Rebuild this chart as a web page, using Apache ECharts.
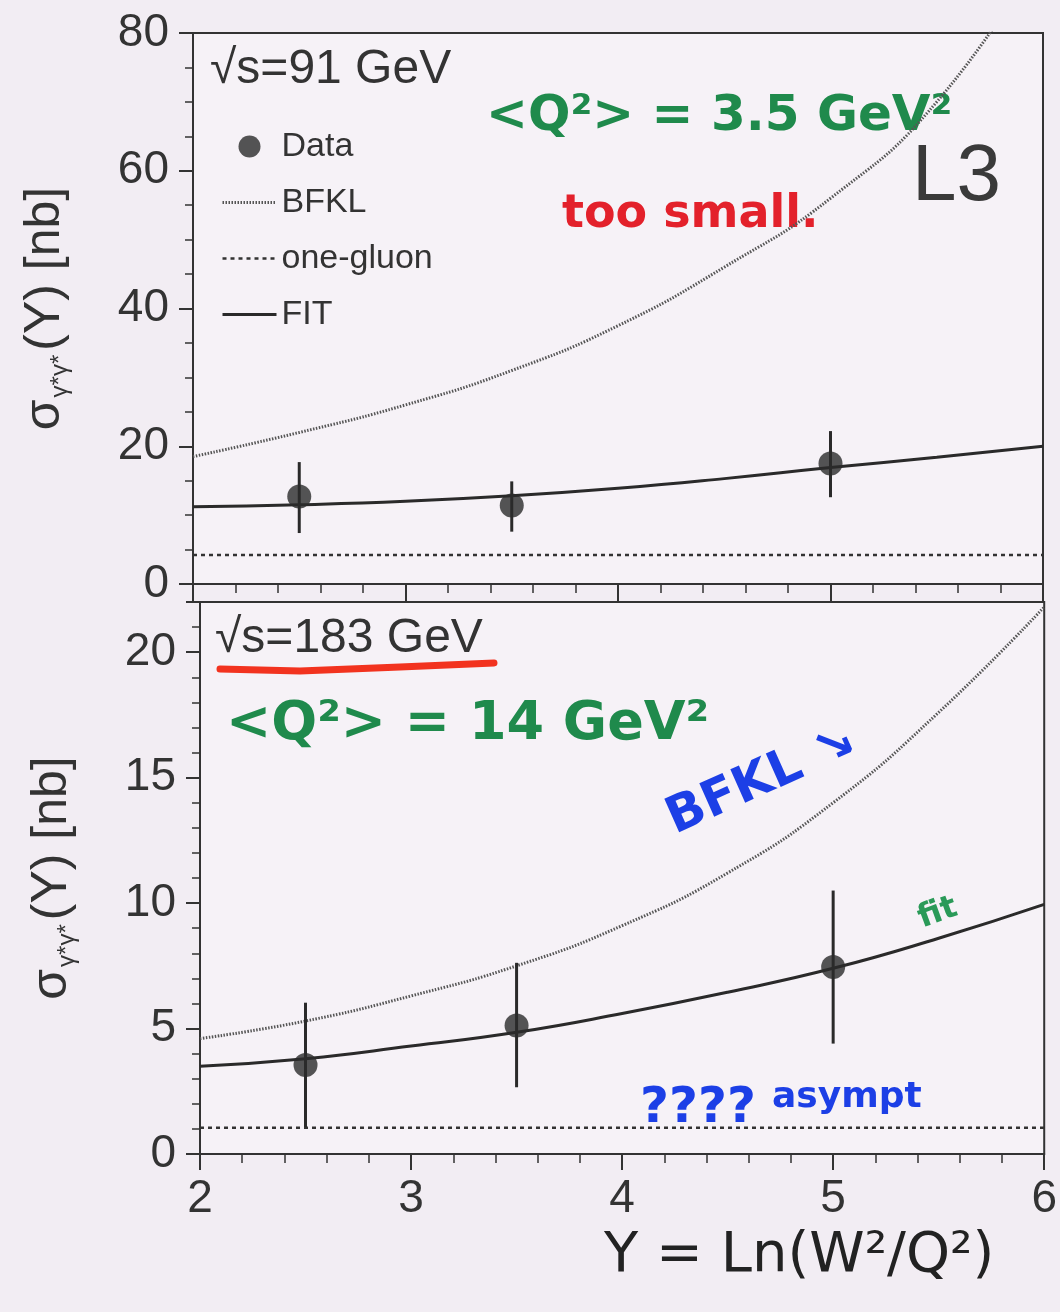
<!DOCTYPE html>
<html>
<head>
<meta charset="utf-8">
<script src="https://cdn.jsdelivr.net/npm/echarts@6/dist/echarts.min.js"></script>
<style>
html,body{margin:0;padding:0;background:#f2edf3;}
#c{width:1060px;height:1312px;}
</style>
</head>
<body>
<div id="c"></div>
<script>
// ---- data ----
const curveY = [2.0, 2.5, 3.0, 3.5, 4.0, 4.5, 5.0, 5.5, 6.0];
// sqrt(s) = 91 GeV panel
const bfkl91 = [18.5, 22.0, 26.0, 31.0, 37.5, 46.0, 56.0, 70.0, 92.0];
const fit91  = [11.2, 11.5, 12.0, 12.8, 13.9, 15.3, 16.9, 18.4, 20.0];
const gluonY = [2.0, 6.0];
const gluon91 = [4.2, 4.2];
const dataY = [2.5, 3.5, 5.0];
const data91 = [12.7, 11.4, 17.5];
const data91Lo = [7.4, 7.6, 12.6];
const data91Hi = [17.7, 14.9, 22.2];
// sqrt(s) = 183 GeV panel
const bfkl183 = [4.6, 5.3, 6.3, 7.5, 9.1, 11.2, 14.0, 17.6, 21.8];
const fit183  = [3.5, 3.8, 4.3, 4.85, 5.6, 6.45, 7.4, 8.6, 9.95];
const gluon183 = [1.05, 1.05];
const data183 = [3.55, 5.12, 7.45];
const data183Lo = [1.07, 2.66, 4.4];
const data183Hi = [6.03, 7.62, 10.5];
// axis ticks
const xTicks = [2, 3, 4, 5, 6];
const yTop = {min: 0, max: 80, step: 20};
const yBot = {min: 0, max: 22, step: 5};

const zip = (xs, ys) => xs.map((x, i) => [x, ys[i]]);
const errData = (xs, lo, hi) => xs.map((x, i) => [x, lo[i], hi[i]]);

const INK = '#333';
const FONT = 'Liberation Sans, Arial, sans-serif';
const HAND = 'DejaVu Sans, sans-serif';

function errSeries(name, gi, d) {
  return {
    name: name, type: 'custom', xAxisIndex: gi, yAxisIndex: gi, z: 4,
    renderItem: function (params, api) {
      const a = api.coord([api.value(0), api.value(1)]);
      const b = api.coord([api.value(0), api.value(2)]);
      return {type: 'line', shape: {x1: a[0], y1: a[1], x2: b[0], y2: b[1]},
              style: {stroke: '#2a2a2a', lineWidth: 3}};
    },
    encode: {x: 0, y: [1, 2]},
    data: d
  };
}

const yName = '{s|σ}{sub|γ*γ*}{n|(Y) [nb]}';
const yNameRich = {
  s: {fontSize: 50, fontFamily: FONT, color: INK, lineHeight: 60},
  sub: {fontSize: 24, fontFamily: FONT, color: INK, lineHeight: 60, padding: [30, 4, 0, 2]},
  n: {fontSize: 50, fontFamily: FONT, color: INK, lineHeight: 60}
};

function xAxis(gi, labels) {
  return {
    type: 'value', gridIndex: gi, min: 2, max: 6, interval: 1,
    axisLine: {show: true, lineStyle: {color: INK, width: 2}},
    axisTick: {show: true, inside: false, length: gi === 0 ? 18 : 16, lineStyle: {color: INK, width: 2}},
    minorTick: {show: true, splitNumber: 5, length: 9, lineStyle: {color: INK, width: 1.5}},
    axisLabel: {show: labels, fontSize: 46, fontFamily: FONT, color: INK, margin: 22},
    splitLine: {show: false}
  };
}
function yAxis(gi, cfg, minorSplit) {
  return {
    type: 'value', gridIndex: gi, min: cfg.min, max: cfg.max, interval: cfg.step,
    axisLine: {show: true, lineStyle: {color: INK, width: 2}},
    axisTick: {show: true, inside: false, length: 14, lineStyle: {color: INK, width: 2}},
    minorTick: {show: true, splitNumber: minorSplit, length: 8, lineStyle: {color: INK, width: 1.5}},
    axisLabel: {fontSize: 46, fontFamily: FONT, color: INK, margin: 24,
                showMaxLabel: gi === 0},
    splitLine: {show: false},
    name: yName, nameLocation: 'middle', nameRotate: 90, nameGap: 118,
    nameTextStyle: {rich: yNameRich}
  };
}

const hideSym = {color: 'rgba(0,0,0,0)', borderWidth: 0, opacity: 0};

const chart = echarts.init(document.getElementById('c'), null, {renderer: 'canvas'});
chart.setOption({
  backgroundColor: '#f2edf3',
  animation: false,
  grid: [
    {left: 193, top: 33, width: 850, height: 551, show: true, borderColor: INK, borderWidth: 2, backgroundColor: '#f6f2f7'},
    {left: 200, top: 602, width: 846, height: 552, show: true, borderColor: INK, borderWidth: 2, backgroundColor: '#f6f2f7'}
  ],
  xAxis: [xAxis(0, false), xAxis(1, true)],
  yAxis: [yAxis(0, yTop, 4), yAxis(1, yBot, 5)],
  legend: {
    orient: 'vertical', left: 216, top: 124, itemWidth: 54, itemHeight: 22, itemGap: 21,
    textStyle: {fontSize: 34, fontFamily: FONT, color: INK, lineHeight: 35},
    data: [
      {name: 'Data'},
      {name: 'BFKL', itemStyle: hideSym, lineStyle: {width: 3}},
      {name: 'one-gluon', itemStyle: hideSym, lineStyle: {width: 2.5}},
      {name: 'FIT', itemStyle: hideSym, lineStyle: {width: 3}}
    ],
    selectedMode: false
  },
  series: [
    {name: 'BFKL', type: 'line', xAxisIndex: 0, yAxisIndex: 0, data: zip(curveY, bfkl91), smooth: true,
     symbol: 'none', clip: true, lineStyle: {color: '#555', width: 3, type: [1.5, 1.5]}, itemStyle: {color: '#555'}},
    {name: 'one-gluon', type: 'line', xAxisIndex: 0, yAxisIndex: 0, data: zip(gluonY, gluon91),
     symbol: 'none', lineStyle: {color: INK, width: 2.5, type: [4, 4]}, itemStyle: {color: INK}},
    {name: 'FIT', type: 'line', xAxisIndex: 0, yAxisIndex: 0, data: zip(curveY, fit91), smooth: true,
     symbol: 'none', lineStyle: {color: '#2a2a2a', width: 3}, itemStyle: {color: '#2a2a2a'}},
    errSeries('err91', 0, errData(dataY, data91Lo, data91Hi)),
    {name: 'Data', type: 'scatter', xAxisIndex: 0, yAxisIndex: 0, data: zip(dataY, data91),
     symbol: 'circle', symbolSize: 24, z: 5, itemStyle: {color: '#2a2a2a'}},

    {name: 'BFKL183', type: 'line', xAxisIndex: 1, yAxisIndex: 1, data: zip(curveY, bfkl183), smooth: true,
     symbol: 'none', clip: true, lineStyle: {color: '#555', width: 3, type: [1.5, 1.5]}},
    {name: 'gluon183', type: 'line', xAxisIndex: 1, yAxisIndex: 1, data: zip(gluonY, gluon183),
     symbol: 'none', lineStyle: {color: INK, width: 2.5, type: [4, 4]}},
    {name: 'FIT183', type: 'line', xAxisIndex: 1, yAxisIndex: 1, data: zip(curveY, fit183), smooth: true,
     symbol: 'none', lineStyle: {color: '#2a2a2a', width: 3}},
    errSeries('err183', 1, errData(dataY, data183Lo, data183Hi)),
    {name: 'Data183', type: 'scatter', xAxisIndex: 1, yAxisIndex: 1, data: zip(dataY, data183),
     symbol: 'circle', symbolSize: 24, z: 5, itemStyle: {color: '#2a2a2a'}}
  ],
  graphic: [
    {type: 'text', left: 210, top: 46, style: {text: '√s=91 GeV', fontSize: 48, fontFamily: FONT, fill: INK}},
    {type: 'text', left: 215, top: 615, style: {text: '√s=183 GeV', fontSize: 48, fontFamily: FONT, fill: INK}},
    {type: 'polyline', shape: {points: [[220, 669], [300, 671], [400, 667], [494, 663]]},
     style: {stroke: '#f2331f', lineWidth: 7, lineCap: 'round', fill: null}},
    {type: 'text', left: 912, top: 138, style: {text: 'L3', fontSize: 80, fontFamily: FONT, fill: '#3a3a3a'}},
    {type: 'text', left: 486, top: 92, style: {text: '<Q²> = 3.5 GeV²', fontSize: 50, fontWeight: 'bold', fontFamily: HAND, fill: '#1f8a4c'}},
    {type: 'text', left: 562, top: 192, style: {text: 'too small.', fontSize: 46, fontWeight: 'bold', fontFamily: HAND, fill: '#e3212b'}},
    {type: 'text', left: 226, top: 698, style: {text: '<Q²> = 14 GeV²', fontSize: 54, fontWeight: 'bold', fontFamily: HAND, fill: '#1f8a4c'}},
    {type: 'text', x: 680, y: 845, rotation: 0.42, style: {text: 'BFKL ↘', fontSize: 50, fontWeight: 'bold', fontFamily: HAND, fill: '#1c3fe6', textVerticalAlign: 'bottom'}},
    {type: 'text', x: 925, y: 935, rotation: 0.35, style: {text: 'fit', fontSize: 32, fontWeight: 'bold', fontFamily: HAND, fill: '#2a9a58', textVerticalAlign: 'bottom'}},
    {type: 'text', left: 640, top: 1084, style: {text: '????', fontSize: 50, fontWeight: 'bold', fontFamily: HAND, fill: '#1c3fe6'}},
    {type: 'text', left: 772, top: 1080, style: {text: 'asympt', fontSize: 36, fontWeight: 'bold', fontFamily: HAND, fill: '#1c3fe6'}},
    {type: 'text', left: 604, top: 1228, style: {text: 'Y = Ln(W²/Q²)', fontSize: 56, fontFamily: HAND, fill: '#222'}}
  ]
});
</script>
</body>
</html>
